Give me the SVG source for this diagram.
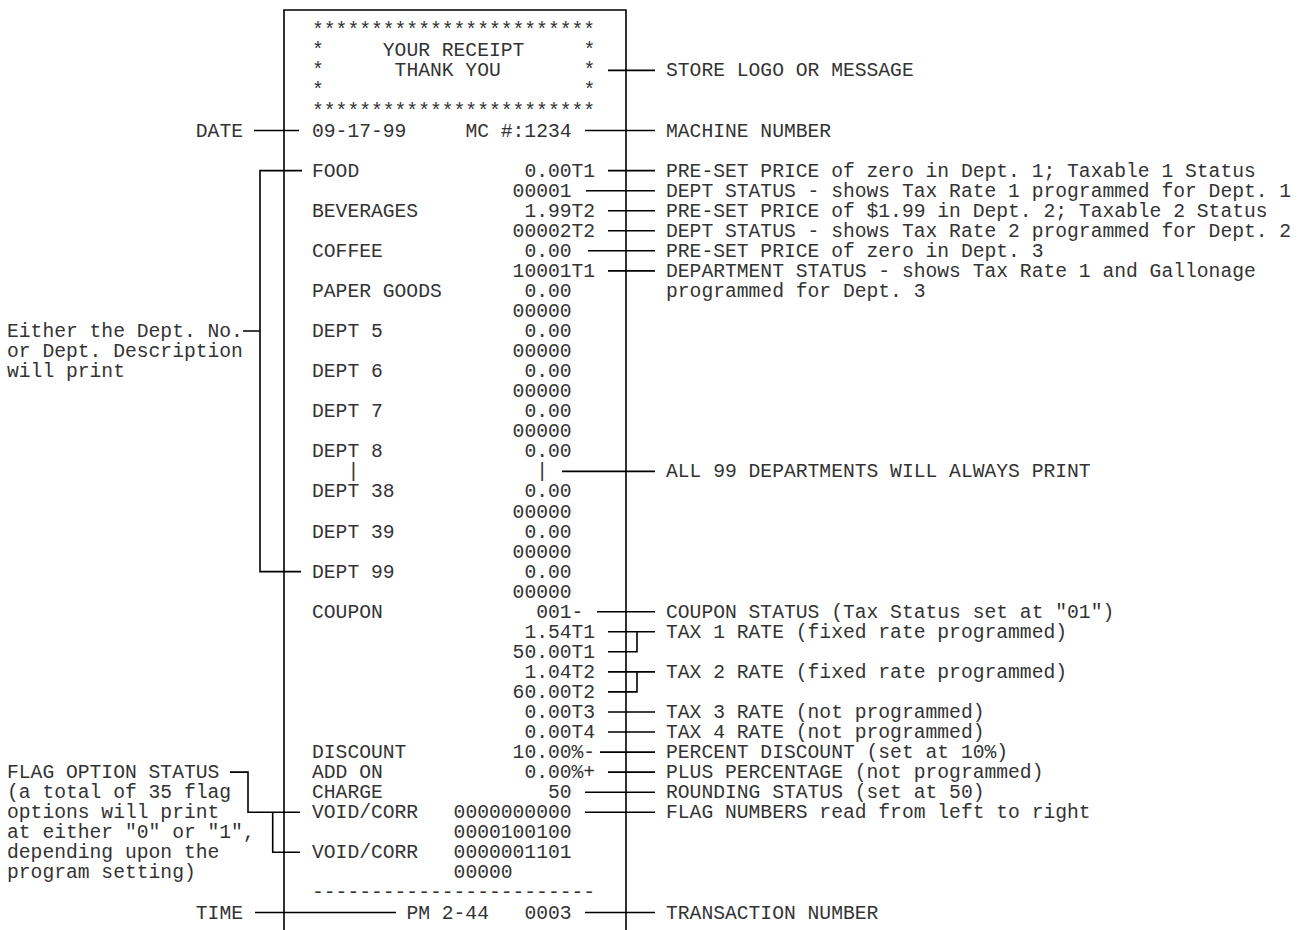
<svg xmlns="http://www.w3.org/2000/svg" width="1301" height="930" viewBox="0 0 1301 930">
<style>
text{font-family:"Liberation Mono","Courier New",monospace;font-size:19.67px;fill:#333}
.end{text-anchor:end}
.ln{stroke:#000;stroke-width:1.6;fill:none}
</style>
<rect width="1301" height="930" fill="#fff"/>
<g id="receipt">
<path class="ln" d="M284,930 V10 H626 V930"/>
<text x="312" y="36.3">************************</text>
<text x="312" y="56.3">*</text><text x="382.8" y="56.3">YOUR RECEIPT</text><text x="583.4" y="56.3">*</text>
<text x="312" y="76.4">*</text><text x="394.6" y="76.4">THANK YOU</text><text x="583.4" y="76.4">*</text>
<text x="312" y="96.4">*</text><text x="583.4" y="96.4">*</text>
<text x="312" y="116.5">************************</text>
<text x="312" y="136.5">09-17-99</text><text x="465.4" y="136.5">MC #:1234</text>
<text x="312" y="176.6">FOOD</text><text x="524.4" y="176.6">0.00T1</text>
<text x="512.6" y="196.7">00001</text>
<text x="312" y="216.7">BEVERAGES</text><text x="524.4" y="216.7">1.99T2</text>
<text x="512.6" y="236.8">00002T2</text>
<text x="312" y="256.8">COFFEE</text><text x="524.4" y="256.8">0.00</text>
<text x="512.6" y="276.9">10001T1</text>
<text x="312" y="296.9">PAPER GOODS</text><text x="524.4" y="296.9">0.00</text>
<text x="512.6" y="317">00000</text>
<text x="312" y="337">DEPT 5</text><text x="524.4" y="337">0.00</text>
<text x="512.6" y="357.1">00000</text>
<text x="312" y="377.1">DEPT 6</text><text x="524.4" y="377.1">0.00</text>
<text x="512.6" y="397.2">00000</text>
<text x="312" y="417.2">DEPT 7</text><text x="524.4" y="417.2">0.00</text>
<text x="512.6" y="437.3">00000</text>
<text x="312" y="457.3">DEPT 8</text><text x="524.4" y="457.3">0.00</text>
<text x="347.4" y="477.4">|</text><text x="536.2" y="477.4">|</text>
<text x="312" y="497.4">DEPT 38</text><text x="524.4" y="497.4">0.00</text>
<text x="512.6" y="517.5">00000</text>
<text x="312" y="537.5">DEPT 39</text><text x="524.4" y="537.5">0.00</text>
<text x="512.6" y="557.6">00000</text>
<text x="312" y="577.6">DEPT 99</text><text x="524.4" y="577.6">0.00</text>
<text x="512.6" y="597.7">00000</text>
<text x="312" y="617.7">COUPON</text><text x="536.2" y="617.7">001-</text>
<text x="524.4" y="637.8">1.54T1</text>
<text x="512.6" y="657.8">50.00T1</text>
<text x="524.4" y="677.9">1.04T2</text>
<text x="512.6" y="697.9">60.00T2</text>
<text x="524.4" y="718">0.00T3</text>
<text x="524.4" y="738">0.00T4</text>
<text x="312" y="758.1">DISCOUNT</text><text x="512.6" y="758.1">10.00%-</text>
<text x="312" y="778.1">ADD ON</text><text x="524.4" y="778.1">0.00%+</text>
<text x="312" y="798.2">CHARGE</text><text x="548" y="798.2">50</text>
<text x="312" y="818.2">VOID/CORR</text><text x="453.6" y="818.2">0000000000</text>
<text x="453.6" y="838.3">0000100100</text>
<text x="312" y="858.3">VOID/CORR</text><text x="453.6" y="858.3">0000001101</text>
<text x="453.6" y="878.4">00000</text>
<text x="312" y="898.4">------------------------</text>
<text x="406.4" y="918.5">PM 2-44</text><text x="524.4" y="918.5">0003</text>
</g>
<g id="left-labels">
<text class="end" x="243" y="136.5">DATE</text>
<text class="end" x="243" y="918.5">TIME</text>
<text x="7" y="337">Either the Dept. No.</text>
<text x="7" y="357.1">or Dept. Description</text>
<text x="7" y="377.1">will print</text>
<text x="7" y="778.1">FLAG OPTION STATUS</text>
<text x="7" y="798.2">(a total of 35 flag</text>
<text x="7" y="818.2">options will print</text>
<text x="7" y="838.3">at either "0" or "1",</text>
<text x="7" y="858.3">depending upon the</text>
<text x="7" y="878.4">program setting)</text>
</g>
<g id="right-labels">
<text x="666" y="76.4">STORE LOGO OR MESSAGE</text>
<text x="666" y="136.5">MACHINE NUMBER</text>
<text x="666" y="176.6">PRE-SET PRICE of zero in Dept. 1; Taxable 1 Status</text>
<text x="666" y="196.7">DEPT STATUS - shows Tax Rate 1 programmed for Dept. 1</text>
<text x="666" y="216.7">PRE-SET PRICE of $1.99 in Dept. 2; Taxable 2 Status</text>
<text x="666" y="236.8">DEPT STATUS - shows Tax Rate 2 programmed for Dept. 2</text>
<text x="666" y="256.8">PRE-SET PRICE of zero in Dept. 3</text>
<text x="666" y="276.9">DEPARTMENT STATUS - shows Tax Rate 1 and Gallonage</text>
<text x="666" y="296.9">programmed for Dept. 3</text>
<text x="666" y="477.4">ALL 99 DEPARTMENTS WILL ALWAYS PRINT</text>
<text x="666" y="617.7">COUPON STATUS (Tax Status set at "01")</text>
<text x="666" y="637.8">TAX 1 RATE (fixed rate programmed)</text>
<text x="666" y="677.9">TAX 2 RATE (fixed rate programmed)</text>
<text x="666" y="718">TAX 3 RATE (not programmed)</text>
<text x="666" y="738">TAX 4 RATE (not programmed)</text>
<text x="666" y="758.1">PERCENT DISCOUNT (set at 10%)</text>
<text x="666" y="778.1">PLUS PERCENTAGE (not programmed)</text>
<text x="666" y="798.2">ROUNDING STATUS (set at 50)</text>
<text x="666" y="818.2">FLAG NUMBERS read from left to right</text>
<text x="666" y="918.5">TRANSACTION NUMBER</text>
</g>
<g id="connectors" class="ln">
<path class="ln" d="M254,130.5 H299"/>
<path class="ln" d="M255,912.5 H396"/>
<path class="ln" d="M302,170.6 H260 V571.6 H301 M243,331 H260"/>
<path class="ln" d="M230,772.1 H248 V812.2 H300 M272.7,812.2 V852.3 H300"/>
<path class="ln" d="M608,70.4 H655 M585,130.5 H655 M608,170.6 H655 M586,190.7 H655 M608,210.7 H655 M608,230.8 H655 M588,250.8 H655 M608,270.9 H655 M562,471.4 H655 M597,611.7 H655 M608,631.8 H655 M608,651.8 H637 V631.8 M608,671.9 H655 M608,691.9 H637 V671.9 M608,712 H655 M608,732 H655 M600,752.1 H655 M608,772.1 H655 M585,792.2 H655 M585,812.2 H655 M585,912.5 H655"/>
</g>
</svg>
